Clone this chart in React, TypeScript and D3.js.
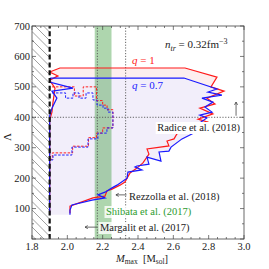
import React, { useEffect, useRef } from "react";
import * as d3 from "d3";

// outer envelopes of the allowed region (M_max, Lambda)
const q1Outline: [number, number][] = [
  [1.9, 85], [1.9, 391], [1.913, 417], [1.919, 450], [1.93, 496], [1.9, 522],
  [1.947, 536], [1.9, 549], [1.958, 562], [2.666, 562], [2.847, 532], [2.813, 500],
  [2.887, 486], [2.79, 463], [2.836, 444], [2.75, 430], [2.824, 411], [2.74, 394],
  [2.796, 384], [2.705, 371], [2.655, 355], [2.62, 345], [2.604, 329], [2.564, 322],
  [2.575, 306], [2.451, 296], [2.462, 279], [2.428, 250], [2.394, 233], [2.355, 217],
  [2.326, 187], [2.298, 177], [2.253, 164], [2.224, 158], [2.213, 141], [2.145, 135],
  [2.015, 108], [2.015, 85],
];
const q07Outline: [number, number][] = [
  [1.9, 80], [1.9, 404], [1.913, 430], [1.941, 463], [1.913, 486], [2.032, 496],
  [1.9, 516], [1.906, 529], [2.66, 529], [2.847, 493], [2.796, 483], [2.875, 473],
  [2.762, 463], [2.824, 450], [2.779, 434], [2.819, 417], [2.75, 407], [2.79, 398],
  [2.74, 378], [2.768, 365], [2.705, 345], [2.649, 329], [2.587, 302], [2.575, 289],
  [2.519, 286], [2.53, 256], [2.451, 269], [2.462, 246], [2.394, 240], [2.383, 237],
  [2.422, 227], [2.343, 220], [2.338, 200], [2.281, 177], [2.253, 168], [2.213, 154],
  [2.173, 145], [2.213, 135], [2.14, 128], [2.026, 112], [2.015, 95], [2.015, 80],
];
// inner step boundaries
const q1Steps: [number, number][] = [
  [1.913, 500], [2.04, 500], [2.04, 470], [2.09, 470], [2.09, 500], [2.165, 500],
  [2.165, 455], [2.2, 455], [2.2, 440], [2.225, 440], [2.225, 425], [2.258, 425],
  [2.258, 365], [2.2, 365], [2.2, 348], [2.165, 348], [2.165, 333], [2.12, 333],
  [2.12, 305], [2.03, 305], [2.03, 283], [1.915, 283], [1.915, 262], [1.9, 262],
];
const q07Steps: [number, number][] = [
  [1.913, 480], [1.99, 480], [1.99, 463], [2.032, 463], [2.032, 480], [2.066, 480],
  [2.066, 463], [2.106, 463], [2.106, 480], [2.145, 480], [2.145, 457], [2.168, 457],
  [2.168, 440], [2.202, 440], [2.202, 430], [2.23, 430], [2.23, 417], [2.258, 417],
  [2.258, 365], [2.224, 365], [2.224, 348], [2.173, 348], [2.173, 329], [2.117, 329],
  [2.117, 302], [2.026, 302], [2.026, 276], [1.919, 276], [1.919, 260], [1.9, 260],
];

const mMin = 1.9;
const shibataBand = [2.155, 2.25];
const margalitM = 2.17;
const rezzollaM = 2.33;
const radiceL = 400;

const xTicks = [1.8, 2.0, 2.2, 2.4, 2.6, 2.8, 3.0];
const yTicks = [100, 200, 300, 400, 500, 600, 700];

const FONT = "'Liberation Serif', 'DejaVu Serif', serif";

const App = () => {
  const ref = useRef<SVGSVGElement>(null);

  useEffect(() => {
    const svg = d3.select(ref.current);
    svg.selectAll("*").remove();

    const x = d3.scaleLinear().domain([1.8, 3.0]).range([32, 244]);
    const y = d3.scaleLinear().domain([0, 700]).range([239, 26]);
    const [x0, x1] = x.range();
    const [y0, y1] = y.range();

    svg.append("rect").attr("width", 269).attr("height", 269).attr("fill", "white");

    const defs = svg.append("defs");
    defs.append("clipPath").attr("id", "plot")
      .append("rect").attr("x", x0).attr("y", y1).attr("width", x1 - x0).attr("height", y0 - y1);

    const g = svg.append("g").attr("clip-path", "url(#plot)");
    const line = d3.line<[number, number]>().x((d) => x(d[0])).y((d) => y(d[1]));

    // filled regions
    g.append("path").attr("d", line(q1Outline) + "Z").attr("fill", "#fdeeee");
    g.append("path").attr("d", line(q07Outline) + "Z").attr("fill", "#f2eefa");

    // Shibata band
    g.append("rect")
      .attr("x", x(shibataBand[0])).attr("y", y1)
      .attr("width", x(shibataBand[1]) - x(shibataBand[0])).attr("height", y0 - y1)
      .attr("fill", "rgba(30,140,30,0.36)");

    // hatched excluded region
    const hx0 = x(1.8), hx1 = x(mMin);
    const hatch = g.append("g");
    for (let k = y1 - 20; k < y0 + 20; k += 8.5) {
      hatch.append("line")
        .attr("x1", hx0).attr("y1", k).attr("x2", hx1).attr("y2", k + (hx1 - hx0))
        .attr("stroke", "#888").attr("stroke-width", 0.8);
    }

    // reference lines
    const dotted = (sel: any) =>
      sel.attr("stroke", "#555").attr("stroke-width", 0.9).attr("stroke-dasharray", "1.2,1.6");
    g.append("line").attr("x1", x(margalitM)).attr("x2", x(margalitM)).attr("y1", y0).attr("y2", y1).call(dotted);
    g.append("line").attr("x1", x(rezzollaM)).attr("x2", x(rezzollaM)).attr("y1", y0).attr("y2", y1).call(dotted);
    g.append("line").attr("x1", x0).attr("x2", x1).attr("y1", y(radiceL)).attr("y2", y(radiceL)).call(dotted);

    // step boundaries
    g.append("path").attr("d", line(q1Steps)).attr("fill", "none")
      .attr("stroke", "#ff2020").attr("stroke-width", 1).attr("stroke-dasharray", "2.5,1.5");
    g.append("path").attr("d", line(q07Steps)).attr("fill", "none")
      .attr("stroke", "#2020ff").attr("stroke-width", 1).attr("stroke-dasharray", "2.5,1.5");

    // outlines
    g.append("path").attr("d", line(q1Outline)).attr("fill", "none")
      .attr("stroke", "#ff1a1a").attr("stroke-width", 1.2);
    g.append("path").attr("d", line(q07Outline)).attr("fill", "none")
      .attr("stroke", "#1a1aff").attr("stroke-width", 1.2);

    // lower mass bound
    g.append("line").attr("x1", x(mMin)).attr("x2", x(mMin)).attr("y1", y0).attr("y2", y1)
      .attr("stroke", "#111").attr("stroke-width", 2.2).attr("stroke-dasharray", "5,2.8");

    // frame and ticks
    svg.append("rect").attr("x", x0).attr("y", y1).attr("width", x1 - x0).attr("height", y0 - y1)
      .attr("fill", "none").attr("stroke", "#444").attr("stroke-width", 0.8);
    const ax = svg.append("g").attr("stroke", "#444").attr("stroke-width", 0.7);
    d3.range(1.8, 3.0001, 0.05).forEach((v) => {
      const major = xTicks.some((t) => Math.abs(t - v) < 1e-6);
      const len = major ? 4 : 2;
      ax.append("line").attr("x1", x(v)).attr("x2", x(v)).attr("y1", y0).attr("y2", y0 - len);
      ax.append("line").attr("x1", x(v)).attr("x2", x(v)).attr("y1", y1).attr("y2", y1 + len);
    });
    d3.range(0, 700.01, 50).forEach((v) => {
      const major = v % 100 === 0;
      const len = major ? 4 : 2;
      ax.append("line").attr("y1", y(v)).attr("y2", y(v)).attr("x1", x0).attr("x2", x0 + len);
      ax.append("line").attr("y1", y(v)).attr("y2", y(v)).attr("x1", x1).attr("x2", x1 - len);
    });

    const txt = svg.append("g").attr("font-family", FONT).attr("font-size", 10.5).attr("fill", "#222");
    xTicks.forEach((t) => {
      txt.append("text").attr("x", x(t)).attr("y", y0 + 11).attr("text-anchor", "middle").text(t.toFixed(1));
    });
    yTicks.forEach((t) => {
      txt.append("text").attr("x", x0 - 2).attr("y", y(t) + 3.5).attr("text-anchor", "end").text(t);
    });

    // axis labels
    const xl = txt.append("text").attr("x", 142).attr("y", 262).attr("text-anchor", "middle");
    xl.append("tspan").attr("font-style", "italic").text("M");
    xl.append("tspan").attr("font-size", 7.5).attr("dy", 2).text("max");
    xl.append("tspan").attr("dy", -2).text("\u2002[M");
    xl.append("tspan").attr("font-size", 7.5).attr("dy", 2).text("sol");
    xl.append("tspan").attr("dy", -2).text("]");
    txt.append("text").attr("transform", "translate(11,137) rotate(-90)")
      .attr("text-anchor", "middle").attr("font-size", 11).text("\u039B");

    // n_tr
    const nt = txt.append("text").attr("x", 165).attr("y", 48).attr("font-size", 11);
    nt.append("tspan").attr("font-style", "italic").text("n");
    nt.append("tspan").attr("font-style", "italic").attr("font-size", 8).attr("dy", 2.5).text("tr");
    nt.append("tspan").attr("dy", -2.5).text(" = 0.32fm");
    nt.append("tspan").attr("font-size", 8).attr("dy", -4).text("\u22123");

    // q labels
    const qa = txt.append("text").attr("x", 132).attr("y", 64).attr("fill", "#ff1a1a").attr("font-size", 11);
    qa.append("tspan").attr("font-style", "italic").text("q");
    qa.append("tspan").text(" = 1");
    const qb = txt.append("text").attr("x", 132).attr("y", 89).attr("fill", "#1a1aff").attr("font-size", 11);
    qb.append("tspan").attr("font-style", "italic").text("q");
    qb.append("tspan").text(" = 0.7");

    // boxed labels
    const boxed = (label: string, xe: number, yb: number, color: string, anchor: string, alpha: number) => {
      const t = txt.append("text").attr("x", xe).attr("y", yb).attr("text-anchor", anchor)
        .attr("fill", color).text(label);
      const bb = (t.node() as SVGTextElement).getBBox();
      txt.insert("rect", () => t.node())
        .attr("x", bb.x - 1.5).attr("y", bb.y).attr("width", bb.width + 3).attr("height", bb.height)
        .attr("fill", "white").attr("fill-opacity", alpha);
    };
    boxed("Radice et al. (2018)", 240, 131, "#222", "end", 1);
    boxed("Rezzolla et al. (2018)", 129, 199.5, "#222", "start", 0.8);
    boxed("Shibata et al. (2017)", 106, 215, "#2e9b2e", "start", 0.8);
    boxed("Margalit et al. (2017)", 100, 231, "#222", "start", 0.8);

    // arrows
    const arrow = (ax0: number, ay0: number, ax1: number, ay1: number) => {
      const a = Math.atan2(ay1 - ay0, ax1 - ax0);
      const h = 3.2;
      const p = d3.path();
      p.moveTo(ax0, ay0); p.lineTo(ax1, ay1);
      p.moveTo(ax1 - h * Math.cos(a - 0.5), ay1 - h * Math.sin(a - 0.5));
      p.lineTo(ax1, ay1);
      p.lineTo(ax1 - h * Math.cos(a + 0.5), ay1 - h * Math.sin(a + 0.5));
      svg.append("path").attr("d", p.toString()).attr("fill", "none")
        .attr("stroke", "#444").attr("stroke-width", 0.8);
    };
    arrow(x(2.955), y(radiceL + 5), x(2.955), y(450));
    arrow(x(rezzollaM + 0.005), y(145), x(2.275), y(145));
    arrow(x(margalitM - 0.002), y(39), x(2.1), y(39));
  }, []);

  return (
    <svg ref={ref} width={269} height={269}
      style={{ position: "absolute", left: 0, top: 0 }} />
  );
};

export default App;
